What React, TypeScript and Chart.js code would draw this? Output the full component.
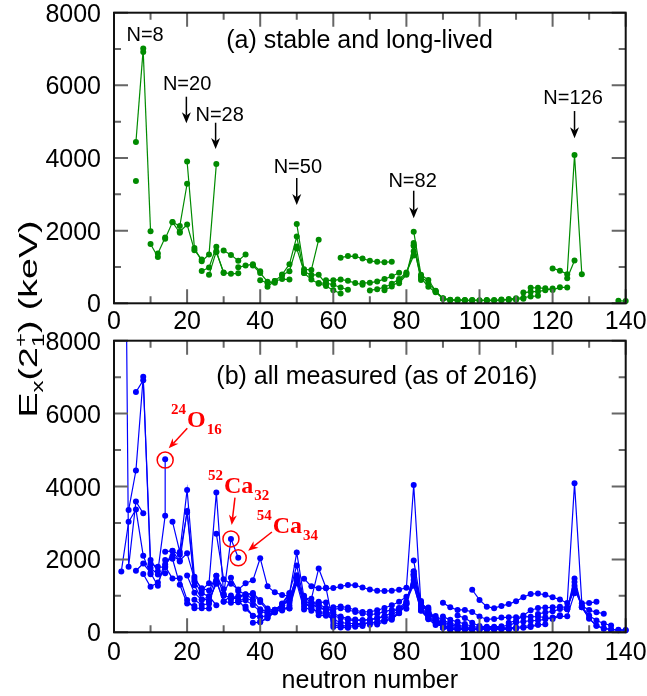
import React, { useEffect, useRef } from 'react';
import { Chart, registerables } from 'chart.js';
Chart.register(...registerables);

type Pt = [number, number];

// ---------- (a) stable and long-lived: chains of [neutron number, E(2+) keV] ----------
const stableBe: Pt[] = [[6, 3368]];
const stableC: Pt[] = [[6, 4439], [8, 7012]];
const stableO: Pt[] = [[8, 6917], [10, 1982]];
const stableNe: Pt[] = [[10, 1634], [12, 1275]];
const stableMg: Pt[] = [[12, 1369], [14, 1809]];
const stableSi: Pt[] = [[14, 1779], [16, 2235], [18, 1942]];
const stableS: Pt[] = [[16, 2231], [18, 2128], [20, 3291]];
const stableAr: Pt[] = [[18, 1970], [20, 2168], [22, 1461], [24, 1208]];
const stableCa: Pt[] = [[20, 3904], [22, 1525], [24, 1157], [26, 1346], [28, 3832]];
const stableTi: Pt[] = [[24, 889], [26, 984], [28, 1554]];
const stableCr: Pt[] = [[26, 783], [28, 1434], [30, 835]];
const stableFe: Pt[] = [[28, 1408], [30, 847], [32, 811], [34, 824]];
const stableNi: Pt[] = [[30, 1454], [32, 1333], [34, 1173], [36, 1346]];
const stableZn: Pt[] = [[34, 992], [36, 1039], [38, 1077], [40, 885]];
const stableGe: Pt[] = [[38, 1040], [40, 834], [42, 596], [44, 563]];
const stableSe: Pt[] = [[40, 635], [42, 559], [44, 614], [46, 666], [48, 655]];
const stableKr: Pt[] = [[42, 455], [44, 617], [46, 777], [48, 882], [50, 1565]];
const stableSr: Pt[] = [[46, 793], [48, 1077], [50, 1836], [52, 832]];
const stableZr: Pt[] = [[50, 2186], [52, 935], [54, 919], [56, 1751]];
const stableMo: Pt[] = [[50, 1510], [52, 871], [54, 778], [56, 787], [58, 536]];
const stableRu: Pt[] = [[52, 833], [54, 652], [56, 540], [58, 475], [60, 358], [62, 270]];
const stablePd: Pt[] = [[56, 556], [58, 556], [60, 512], [62, 434], [64, 374]];
const stableCd: Pt[] = [[58, 633], [60, 633], [62, 658], [64, 618], [66, 558], [68, 513]];
const stableSn: Pt[] = [[62, 1257], [64, 1300], [66, 1294], [68, 1230], [70, 1171], [72, 1141], [74, 1132], [76, 1141]];
const stableTe: Pt[] = [[68, 560], [70, 564], [72, 603], [74, 666], [76, 743], [78, 839]];
const stableXe: Pt[] = [[70, 354], [72, 389], [74, 443], [76, 536], [78, 668], [80, 847], [82, 1313]];
const stableBa: Pt[] = [[74, 357], [76, 465], [78, 605], [80, 819], [82, 1436]];
const stableCe: Pt[] = [[78, 552], [80, 789], [82, 1596], [84, 641]];
const stableNd: Pt[] = [[82, 1576], [84, 697], [86, 454], [88, 302], [90, 130]];
const stableSm: Pt[] = [[82, 1660], [84, 747], [86, 550], [88, 334], [90, 122], [92, 82]];
const stableGd: Pt[] = [[82, 1972], [84, 784], [86, 638], [88, 344], [90, 123], [92, 89], [94, 80], [96, 75]];
const stableDy: Pt[] = [[88, 335], [90, 138], [92, 99], [94, 87], [96, 81], [98, 73]];
const stableEr: Pt[] = [[94, 102], [96, 91], [98, 81], [100, 80], [102, 79]];
const stableYb: Pt[] = [[98, 88], [100, 84], [102, 79], [104, 76], [106, 82]];
const stableHf: Pt[] = [[102, 91], [104, 88], [106, 93], [108, 93], [110, 98]];
const stableW: Pt[] = [[106, 104], [108, 100], [110, 111], [112, 122]];
const stableOs: Pt[] = [[108, 120], [110, 137], [112, 155], [114, 187], [116, 206]];
const stablePt: Pt[] = [[112, 296], [114, 317], [116, 328], [118, 356], [120, 407]];
const stableHg: Pt[] = [[114, 428], [116, 426], [118, 412], [120, 368], [122, 440], [124, 437]];
const stablePb: Pt[] = [[120, 960], [122, 899], [124, 803], [126, 4086], [128, 800]];
const stablePo: Pt[] = [[124, 687], [126, 1181]];
const stableRa: Pt[] = [[138, 68], [140, 64]];

// ---------- (b) all measured (as of 2016) ----------
const allHe: Pt[] = [[2, 25000], [4, 1797], [6, 3590], [8, 3263]];
const allBe: Pt[] = [[2, 1670], [4, 3030], [6, 3368], [8, 2102], [10, 1590]];
const allC: Pt[] = [[4, 3354], [6, 4439], [8, 7012], [10, 1766], [12, 1588], [14, 1618]];
const allO: Pt[] = [[6, 6590], [8, 6917], [10, 1982], [12, 1674], [14, 3199], [14, 4750]];
const allNe: Pt[] = [[6, 1690], [8, 1887], [10, 1634], [12, 1275], [14, 1982], [16, 2018], [18, 1304], [20, 792], [22, 722]];
const allMg: Pt[] = [[8, 1598], [10, 1247], [12, 1369], [14, 1809], [16, 1474], [18, 1483], [20, 885], [22, 660], [24, 660], [26, 650]];
const allSi: Pt[] = [[10, 1879], [12, 1797], [14, 1779], [16, 2235], [18, 1942], [20, 3328], [22, 1399], [24, 1071], [26, 986], [28, 742]];
const allS: Pt[] = [[14, 2211], [16, 2231], [18, 2128], [20, 3291], [22, 1292], [24, 904], [26, 890], [28, 1329]];
const allAr: Pt[] = [[14, 1867], [16, 2091], [18, 1970], [20, 2168], [22, 1461], [24, 1208], [26, 1144], [28, 1554], [30, 1178]];
const allCa: Pt[] = [[16, 3036], [18, 2206], [20, 3904], [22, 1525], [24, 1157], [26, 1346], [28, 3832], [30, 1027], [32, 2563], [34, 2043]];
const allTi: Pt[] = [[20, 1555], [22, 1083], [24, 889], [26, 984], [28, 1554], [30, 1050], [32, 1495], [34, 1128], [36, 1047], [38, 899]];
const allCr: Pt[] = [[22, 892], [24, 752], [26, 783], [28, 1434], [30, 835], [32, 1007], [34, 880], [36, 646], [38, 446], [40, 420]];
const allFe: Pt[] = [[26, 849], [28, 1408], [30, 847], [32, 811], [34, 824], [36, 877], [38, 746], [40, 574], [42, 522]];
const allNi: Pt[] = [[28, 2701], [30, 1454], [32, 1333], [34, 1173], [36, 1346], [38, 1425], [40, 2033], [42, 1260], [44, 1096], [46, 1024], [48, 992]];
const allZn: Pt[] = [[30, 1004], [32, 954], [34, 992], [36, 1039], [38, 1077], [40, 885], [42, 653], [44, 606], [46, 599], [48, 730], [50, 1492]];
const allGe: Pt[] = [[32, 902], [34, 957], [36, 1016], [38, 1040], [40, 834], [42, 596], [44, 563], [46, 619], [48, 659], [50, 1348], [52, 625]];
const allSe: Pt[] = [[34, 854], [36, 945], [38, 862], [40, 635], [42, 559], [44, 614], [46, 666], [48, 655], [50, 1455], [52, 704], [54, 590]];
const allKr: Pt[] = [[36, 710], [38, 456], [40, 424], [42, 455], [44, 617], [46, 777], [48, 882], [50, 1565], [52, 775], [54, 707], [56, 769], [58, 665], [60, 554]];
const allSr: Pt[] = [[38, 261], [40, 278], [42, 386], [44, 574], [46, 793], [48, 1077], [50, 1836], [52, 832], [54, 815], [56, 837], [58, 815], [60, 144], [62, 129], [64, 126]];
const allZr: Pt[] = [[40, 290], [42, 407], [44, 540], [46, 752], [48, 1057], [50, 2186], [52, 935], [54, 919], [56, 1751], [58, 1223], [60, 212], [62, 152], [64, 140], [66, 152], [68, 174]];
const allMo: Pt[] = [[42, 444], [44, 567], [46, 741], [48, 948], [50, 1510], [52, 871], [54, 778], [56, 787], [58, 536], [60, 297], [62, 192], [64, 172], [66, 193], [68, 214]];
const allRu: Pt[] = [[44, 616], [46, 739], [48, 865], [50, 1431], [52, 833], [54, 652], [56, 540], [58, 475], [60, 358], [62, 270], [64, 242], [66, 241], [68, 237], [70, 265]];
const allPd: Pt[] = [[48, 814], [50, 1415], [52, 863], [54, 666], [56, 556], [58, 556], [60, 512], [62, 434], [64, 374], [66, 349], [68, 333], [70, 341], [72, 379], [74, 438]];
const allCd: Pt[] = [[50, 1395], [52, 1004], [54, 777], [56, 658], [58, 633], [60, 633], [62, 658], [64, 618], [66, 558], [68, 513], [70, 488], [72, 506], [74, 569], [76, 613], [78, 652], [80, 645]];
const allSn: Pt[] = [[52, 1472], [54, 1260], [56, 1208], [58, 1206], [60, 1212], [62, 1257], [64, 1300], [66, 1294], [68, 1230], [70, 1171], [72, 1141], [74, 1132], [76, 1141], [78, 1169], [80, 1221], [82, 4041], [84, 726], [86, 682]];
const allTe: Pt[] = [[58, 657], [60, 689], [62, 709], [64, 679], [66, 606], [68, 560], [70, 564], [72, 603], [74, 666], [76, 743], [78, 839], [80, 974], [82, 1279], [84, 606], [86, 443]];
const allXe: Pt[] = [[56, 470], [58, 453], [60, 450], [62, 393], [64, 337], [66, 322], [68, 331], [70, 354], [72, 389], [74, 443], [76, 536], [78, 668], [80, 847], [82, 1313], [84, 589], [86, 377], [88, 287], [90, 252]];
const allBa: Pt[] = [[66, 196], [68, 230], [70, 256], [72, 284], [74, 357], [76, 465], [78, 605], [80, 819], [82, 1436], [84, 602], [86, 360], [88, 199], [90, 181], [92, 142]];
const allCe: Pt[] = [[70, 207], [72, 254], [74, 325], [76, 409], [78, 552], [80, 789], [82, 1596], [84, 641], [86, 397], [88, 258], [90, 158], [92, 97]];
const allNd: Pt[] = [[72, 213], [74, 294], [76, 374], [78, 521], [80, 774], [82, 1576], [84, 697], [86, 454], [88, 302], [90, 130], [92, 73]];
const allSm: Pt[] = [[76, 347], [78, 531], [80, 768], [82, 1660], [84, 747], [86, 550], [88, 334], [90, 122], [92, 82], [94, 76]];
const allGd: Pt[] = [[82, 1972], [84, 784], [86, 638], [88, 344], [90, 123], [92, 89], [94, 80], [96, 75], [98, 70]];
const allDy: Pt[] = [[82, 1677], [84, 803], [86, 614], [88, 335], [90, 138], [92, 99], [94, 87], [96, 81], [98, 73], [100, 77]];
const allEr: Pt[] = [[82, 1579], [84, 808], [86, 560], [88, 344], [90, 192], [92, 126], [94, 102], [96, 91], [98, 81], [100, 80], [102, 79], [104, 77]];
const allYb: Pt[] = [[82, 1531], [84, 821], [86, 536], [88, 358], [90, 243], [92, 167], [94, 123], [96, 102], [98, 88], [100, 84], [102, 79], [104, 76], [106, 82], [108, 84]];
const allHf: Pt[] = [[84, 858], [86, 477], [88, 390], [90, 285], [92, 211], [94, 159], [96, 124], [98, 100], [100, 95], [102, 91], [104, 88], [106, 93], [108, 93], [110, 98]];
const allW: Pt[] = [[88, 450], [90, 332], [92, 252], [94, 199], [96, 156], [98, 123], [100, 112], [102, 109], [104, 106], [106, 104], [108, 100], [110, 111], [112, 122], [114, 143], [116, 207]];
const allOs: Pt[] = [[90, 431], [92, 341], [94, 287], [96, 228], [98, 159], [100, 135], [102, 132], [104, 132], [106, 127], [108, 120], [110, 137], [112, 155], [114, 187], [116, 206], [118, 218]];
const allPt: Pt[] = [[94, 458], [96, 394], [98, 264], [100, 170], [102, 153], [104, 155], [106, 163], [108, 192], [110, 266], [112, 296], [114, 317], [116, 328], [118, 356], [120, 407], [122, 470]];
const allHg: Pt[] = [[90, 813], [92, 684], [94, 613], [96, 613], [98, 558], [100, 434], [102, 352], [104, 367], [106, 405], [108, 413], [110, 416], [112, 423], [114, 428], [116, 426], [118, 412], [120, 368], [122, 440], [124, 437], [126, 1068]];
const allPb: Pt[] = [[98, 1168], [100, 888], [102, 702], [104, 662], [106, 724], [108, 774], [110, 854], [112, 965], [114, 1049], [116, 1064], [118, 1027], [120, 960], [122, 899], [124, 803], [126, 4086], [128, 800], [130, 805], [132, 836]];
const allPo: Pt[] = [[108, 262], [110, 320], [112, 463], [114, 605], [116, 666], [118, 677], [120, 684], [122, 700], [124, 687], [126, 1181], [128, 727], [130, 609], [132, 550], [134, 511]];
const allRn: Pt[] = [[116, 504], [118, 543], [120, 575], [122, 636], [124, 644], [126, 1274], [128, 694], [130, 462], [132, 324], [134, 241], [136, 186]];
const allRa: Pt[] = [[124, 629], [126, 1383], [128, 688], [130, 389], [132, 178], [134, 111], [136, 84], [138, 68], [140, 64]];
const allTh: Pt[] = [[124, 634], [126, 1478], [128, 690], [130, 373], [132, 183], [134, 98], [136, 72], [138, 58], [140, 53]];

const stableChains: Pt[][] = [stableBe, stableC, stableO, stableNe, stableMg, stableSi, stableS, stableAr, stableCa, stableTi, stableCr, stableFe, stableNi, stableZn, stableGe, stableSe, stableKr, stableSr, stableZr, stableMo, stableRu, stablePd, stableCd, stableSn, stableTe, stableXe, stableBa, stableCe, stableNd, stableSm, stableGd, stableDy, stableEr, stableYb, stableHf, stableW, stableOs, stablePt, stableHg, stablePb, stablePo, stableRa];
const allChains: Pt[][] = [allHe, allBe, allC, allO, allNe, allMg, allSi, allS, allAr, allCa, allTi, allCr, allFe, allNi, allZn, allGe, allSe, allKr, allSr, allZr, allMo, allRu, allPd, allCd, allSn, allTe, allXe, allBa, allCe, allNd, allSm, allGd, allDy, allEr, allYb, allHf, allW, allOs, allPt, allHg, allPb, allPo, allRn, allRa, allTh];

// ---------- axes ----------
const xTickValues = [0, 20, 40, 60, 80, 100, 120, 140];
const xTickLabels = ['0', '20', '40', '60', '80', '100', '120', '140'];
const xMinorValues = [10, 30, 50, 70, 90, 110, 130];
const yTickValues = [0, 2000, 4000, 6000, 8000];
const yTickLabels = ['0', '2000', '4000', '6000', '8000'];
const yMinorValues = [1000, 3000, 5000, 7000];

// ---------- annotations (data coordinates) ----------
const magicTexts = ['N=8', 'N=20', 'N=28', 'N=50', 'N=82', 'N=126'];
const magicTextN = [8.5, 20.0, 28.9, 50.3, 81.7, 125.6];
const magicTextE = [7412, 6056, 5224, 3793, 3394, 5678];
const magicArrowN = [NaN, 19.8, 27.8, 50, 82, 126];
const magicArrowTop = [NaN, 5687, 4971, 3449, 3099, 5293];
const magicArrowBot = [NaN, 4955, 4247, 2706, 2340, 4542];

const GREEN = 'rgb(0,139,0)';
const BLUE = 'rgb(0,0,255)';
const RED = 'rgb(255,0,0)';
const SANS = '"Liberation Sans", Arial, sans-serif';
const SERIF = '"Liberation Serif", "Times New Roman", serif';

function makeDatasets(chains: Pt[][], color: string) {
  return chains.map((c) => ({
    data: c.map(([n, e]) => ({ x: n, y: e })),
    borderColor: color,
    backgroundColor: color,
    borderWidth: 1.2,
    pointRadius: 3,
    pointHoverRadius: 3,
    pointBorderWidth: 0,
    tension: 0,
    clip: { left: 5, right: 5, bottom: 5, top: 0 } as any,
  }));
}

function drawArrow(ctx: CanvasRenderingContext2D, x1: number, y1: number, x2: number, y2: number, color: string, lw: number, hl: number, hw: number) {
  const ang = Math.atan2(y2 - y1, x2 - x1);
  const cos = Math.cos(ang), sin = Math.sin(ang);
  const notch = hl * 0.7;
  ctx.save();
  ctx.strokeStyle = color;
  ctx.fillStyle = color;
  ctx.lineWidth = lw;
  ctx.beginPath();
  ctx.moveTo(x1, y1);
  ctx.lineTo(x2 - cos * notch, y2 - sin * notch);
  ctx.stroke();
  ctx.beginPath();
  ctx.moveTo(x2, y2);
  ctx.lineTo(x2 - cos * hl - sin * hw / 2, y2 - sin * hl + cos * hw / 2);
  ctx.lineTo(x2 - cos * notch, y2 - sin * notch);
  ctx.lineTo(x2 - cos * hl + sin * hw / 2, y2 - sin * hl - cos * hw / 2);
  ctx.closePath();
  ctx.fill();
  ctx.restore();
}

function drawFrame(chart: any, xLabelBaseline: number) {
  const { ctx, chartArea } = chart;
  const xs = chart.scales.x, ys = chart.scales.y;
  const { left, right, top, bottom } = chartArea;
  ctx.save();
  ctx.strokeStyle = '#666';
  ctx.lineWidth = 2;
  ctx.beginPath();
  const tick = (vals: number[], len: number) => {
    vals.forEach((v) => {
      const px = xs.getPixelForValue(v);
      ctx.moveTo(px, bottom); ctx.lineTo(px, bottom - len);
      ctx.moveTo(px, top); ctx.lineTo(px, top + len);
    });
  };
  const ytick = (vals: number[], len: number) => {
    vals.forEach((v) => {
      const py = ys.getPixelForValue(v);
      ctx.moveTo(left, py); ctx.lineTo(left + len, py);
      ctx.moveTo(right, py); ctx.lineTo(right - len, py);
    });
  };
  tick(xTickValues, 14);
  tick(xMinorValues, 7);
  ytick(yTickValues, 14);
  ytick(yMinorValues, 7);
  ctx.stroke();
  ctx.strokeStyle = '#111';
  ctx.lineWidth = 2;
  ctx.strokeRect(left, top, right - left, bottom - top);

  ctx.fillStyle = '#000';
  ctx.font = `25px ${SANS}`;
  ctx.textBaseline = 'alphabetic';
  ctx.textAlign = 'center';
  xTickValues.forEach((v, i) => {
    ctx.fillText(xTickLabels[i], xs.getPixelForValue(v), xLabelBaseline);
  });
  ctx.textAlign = 'right';
  yTickValues.forEach((v, i) => {
    ctx.fillText(yTickLabels[i], 101, ys.getPixelForValue(v) + 9);
  });
  ctx.restore();
}

type Piece = { t: string; size: number; dy: number; stackWith?: { t: string; dy: number } };

function drawRich(ctx: CanvasRenderingContext2D, pieces: Piece[], x: number, y: number, family: string, weight: string, align: 'left' | 'center') {
  const widths = pieces.map((p) => {
    ctx.font = `${weight} ${p.size}px ${family}`;
    let w = ctx.measureText(p.t).width;
    if (p.stackWith) w = Math.max(w, ctx.measureText(p.stackWith.t).width);
    return w;
  });
  const total = widths.reduce((a, b) => a + b, 0);
  let cx = align === 'center' ? x - total / 2 : x;
  ctx.textAlign = 'left';
  ctx.textBaseline = 'alphabetic';
  pieces.forEach((p, i) => {
    ctx.font = `${weight} ${p.size}px ${family}`;
    ctx.fillText(p.t, cx, y + p.dy);
    if (p.stackWith) ctx.fillText(p.stackWith.t, cx, y + p.stackWith.dy);
    cx += widths[i];
  });
}

const topDecor = {
  id: 'topDecor',
  afterDraw(chart: any) {
    const { ctx } = chart;
    const xs = chart.scales.x, ys = chart.scales.y;
    drawFrame(chart, 328.5);
    ctx.save();
    ctx.fillStyle = '#000';
    ctx.font = `25px ${SANS}`;
    ctx.textAlign = 'center';
    ctx.textBaseline = 'alphabetic';
    ctx.fillText('(a) stable and long-lived', xs.getPixelForValue(67.2), ys.getPixelForValue(7247) + 8);
    magicTexts.forEach((t, i) => {
      ctx.fillStyle = '#000';
      ctx.font = `20px ${SANS}`;
      ctx.textAlign = 'center';
      ctx.fillText(t, xs.getPixelForValue(magicTextN[i]), ys.getPixelForValue(magicTextE[i]) + 7);
      if (!isNaN(magicArrowN[i])) {
        const ax = xs.getPixelForValue(magicArrowN[i]);
        drawArrow(ctx, ax, ys.getPixelForValue(magicArrowTop[i]), ax, ys.getPixelForValue(magicArrowBot[i]), '#000', 1.5, 11, 9);
      }
    });
    // y-axis title spanning both panels (elongated along its reading direction)
    ctx.translate(37, 319);
    ctx.rotate(-Math.PI / 2);
    ctx.scale(1.5, 1);
    ctx.fillStyle = '#000';
    const pieces: Piece[] = [
      { t: 'E', size: 25, dy: 0 },
      { t: 'x', size: 16, dy: 6 },
      { t: '(2', size: 25, dy: 0 },
      { t: '+', size: 16, dy: -11, stackWith: { t: '1', dy: 7 } },
      { t: ') (keV)', size: 25, dy: 0 },
    ];
    drawRich(ctx, pieces, 0, 0, SANS, '', 'center');
    ctx.restore();
  },
};

const bottomDecor = {
  id: 'bottomDecor',
  afterDraw(chart: any) {
    const { ctx } = chart;
    const xs = chart.scales.x, ys = chart.scales.y;
    drawFrame(chart, 660);
    ctx.save();
    ctx.fillStyle = '#000';
    ctx.font = `25px ${SANS}`;
    ctx.textAlign = 'center';
    ctx.textBaseline = 'alphabetic';
    ctx.fillText('(b) all measured (as of 2016)', xs.getPixelForValue(71.9), ys.getPixelForValue(7045) + 8);
    ctx.fillText('neutron number', (chart.chartArea.left + chart.chartArea.right) / 2, 688);

    // red highlights
    ctx.strokeStyle = RED;
    ctx.fillStyle = RED;
    ctx.lineWidth = 1.5;
    const circles: Pt[] = [[14, 4726], [32, 2563], [34, 2043]];
    circles.forEach(([n, e]) => {
      ctx.beginPath();
      ctx.arc(xs.getPixelForValue(n), ys.getPixelForValue(e), 8, 0, Math.PI * 2);
      ctx.stroke();
    });
    const arrows: [number, number, number, number][] = [
      [20.05, 5597, 14.97, 5048],
      [33.1, 3693, 32.2, 2944],
      [43.2, 2752, 36.7, 2239],
    ];
    arrows.forEach(([n1, e1, n2, e2]) => {
      drawArrow(ctx, xs.getPixelForValue(n1), ys.getPixelForValue(e1), xs.getPixelForValue(n2), ys.getPixelForValue(e2), RED, 1.5, 10, 8);
    });
    const labels: { sup: string; main: string; sub: string; n: number; e: number }[] = [
      { sup: '24', main: 'O', sub: '16', n: 20.0, e: 5632 },
      { sup: '52', main: 'Ca', sub: '32', n: 30.1, e: 3822 },
      { sup: '54', main: 'Ca', sub: '34', n: 43.4, e: 2724 },
    ];
    labels.forEach((l) => {
      const x = xs.getPixelForValue(l.n);
      const y = ys.getPixelForValue(l.e);
      ctx.fillStyle = RED;
      ctx.textBaseline = 'alphabetic';
      ctx.font = `bold 15px ${SERIF}`;
      ctx.textAlign = 'right';
      ctx.fillText(l.sup, x - 1, y - 13);
      ctx.font = `bold 24px ${SERIF}`;
      ctx.textAlign = 'left';
      ctx.fillText(l.main, x, y);
      const w = ctx.measureText(l.main).width;
      ctx.font = `bold 15px ${SERIF}`;
      ctx.fillText(l.sub, x + w + 1, y + 7);
    });
    ctx.restore();
  },
};

function makeConfig(chains: Pt[][], color: string, padTop: number, padBottom: number, decor: any): any {
  return {
    type: 'line',
    data: { datasets: makeDatasets(chains, color) },
    options: {
      responsive: false,
      animation: false,
      devicePixelRatio: 1,
      events: [],
      layout: { padding: { left: 114, right: 21.3, top: padTop, bottom: padBottom } },
      scales: {
        x: { type: 'linear', min: 0, max: 140, display: false },
        y: { type: 'linear', min: 0, max: 8000, display: false },
      },
      plugins: { legend: { display: false }, tooltip: { enabled: false } },
    },
    plugins: [decor],
  };
}

export default function App() {
  const topRef = useRef<HTMLCanvasElement>(null);
  const botRef = useRef<HTMLCanvasElement>(null);
  useEffect(() => {
    const c1 = new Chart(topRef.current as HTMLCanvasElement, makeConfig(stableChains, GREEN, 12.7, 696 - 303.3, topDecor));
    const c2 = new Chart(botRef.current as HTMLCanvasElement, makeConfig(allChains, BLUE, 340.7, 696 - 632.3, bottomDecor));
    return () => {
      c1.destroy();
      c2.destroy();
    };
  }, []);
  const cs: React.CSSProperties = { position: 'absolute', left: 0, top: 0, width: 647, height: 696 };
  return (
    <div style={{ position: 'absolute', left: 0, top: 0, width: 647, height: 696, background: '#fff' }}>
      <canvas ref={topRef} width={647} height={696} style={cs} />
      <canvas ref={botRef} width={647} height={696} style={cs} />
    </div>
  );
}
